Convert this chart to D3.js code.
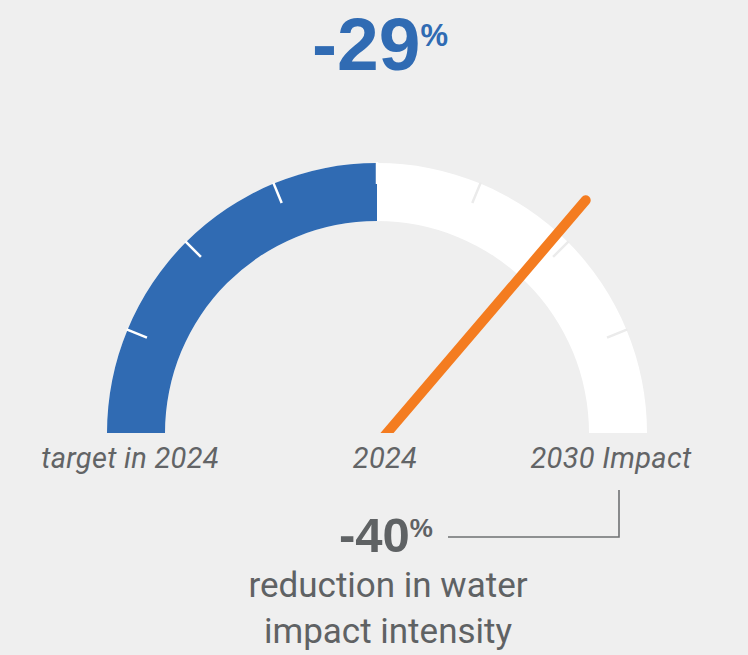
<!DOCTYPE html>
<html>
<head>
<meta charset="utf-8">
<script src="https://cdn.jsdelivr.net/npm/d3@7/dist/d3.min.js"></script>
<style>
  html, body { margin: 0; padding: 0; background: #efefef; }
  svg { display: block; }
</style>
</head>
<body>
<svg id="chart" width="748" height="655"></svg>
<script>
// ---- data ----
const scaleDomain = [0, 40];            // reduction range shown by the gauge (%)
const tickValues = [5, 10, 15, 20, 25, 30, 35];
const progressValue = [20];              // filled (blue) part
const needleValue = [29];                // orange needle (-29%)
const headline = ["-29", "%"];
const targetLabel = ["-40", "%"];
const gaugeLabels = ["target in 2024", "2024", "2030 Impact"];
const captionLines = ["reduction in water", "impact intensity"];

// ---- layout ----
const W = 748, H = 655;
const cx = 377, cy = 433;
const rOuter = 270, rInner = 212;
const blue = "#306bb3", orange = "#f47c20", grey = "#626466";

const svg = d3.select("#chart");
svg.append("rect").attr("width", W).attr("height", H).attr("fill", "#efefef");

const angle = d3.scaleLinear().domain(scaleDomain).range([-Math.PI / 2, Math.PI / 2]);
const arc = d3.arc().innerRadius(rInner).outerRadius(rOuter);

const g = svg.append("g").attr("transform", `translate(${cx},${cy})`);

// background track
g.append("path")
  .attr("d", arc({ startAngle: angle(scaleDomain[0]), endAngle: angle(scaleDomain[1]) }))
  .attr("fill", "#ffffff");

// progress
g.selectAll("path.progress").data(progressValue).enter().append("path")
  .attr("class", "progress")
  .attr("d", d => arc({ startAngle: angle(scaleDomain[0]), endAngle: angle(d) }))
  .attr("fill", blue);

// ticks
const polar = (r, a) => [r * Math.sin(a), -r * Math.cos(a)];
g.selectAll("line.tick").data(tickValues).enter().append("line")
  .attr("class", "tick")
  .attr("x1", d => polar(rOuter - 21, angle(d))[0])
  .attr("y1", d => polar(rOuter - 21, angle(d))[1])
  .attr("x2", d => polar(rOuter + 1, angle(d))[0])
  .attr("y2", d => polar(rOuter + 1, angle(d))[1])
  .attr("stroke", d => d <= progressValue[0] ? "#ffffff" : "#ebebeb")
  .attr("stroke-width", 2.5);

// needle (clipped at gauge base)
svg.append("clipPath").attr("id", "base")
  .append("rect").attr("x", -cx).attr("y", -cy).attr("width", W).attr("height", cy);
const needleOffset = 10, needleLen = 306;
g.selectAll("line.needle").data(needleValue).enter().append("line")
  .attr("class", "needle")
  .attr("clip-path", "url(#base)")
  .attr("x1", d => needleOffset - 20 * Math.sin(angle(d)))
  .attr("y1", d => 20 * Math.cos(angle(d)))
  .attr("x2", d => needleOffset + needleLen * Math.sin(angle(d)))
  .attr("y2", d => -needleLen * Math.cos(angle(d)))
  .attr("stroke", orange)
  .attr("stroke-width", 10)
  .attr("stroke-linecap", "round");

// headline
const h = svg.append("text")
  .attr("x", 380).attr("y", 70)
  .attr("text-anchor", "middle")
  .attr("fill", blue)
  .attr("font-family", "'Liberation Sans', Arial, sans-serif")
  .attr("font-weight", "bold");
h.append("tspan").attr("font-size", 75).text(headline[0]);
h.append("tspan").attr("font-size", 31).attr("dy", -24).text(headline[1]);

// gauge labels
const labelX = [130, 385, 611];
svg.selectAll("text.glabel").data(gaugeLabels).enter().append("text")
  .attr("class", "glabel")
  .attr("x", (d, i) => labelX[i]).attr("y", 468)
  .attr("text-anchor", "middle")
  .attr("font-family", "Roboto, sans-serif")
  .attr("font-style", "italic")
  .attr("font-size", 29)
  .attr("letter-spacing", 0.3)
  .attr("fill", grey)
  .text(d => d);

// target label
const t = svg.append("text")
  .attr("x", 386).attr("y", 552)
  .attr("text-anchor", "middle")
  .attr("fill", "#5f6264")
  .attr("font-family", "'Liberation Sans', Arial, sans-serif")
  .attr("font-weight", "bold");
t.append("tspan").attr("font-size", 49).text(targetLabel[0]);
t.append("tspan").attr("font-size", 26).attr("dy", -15).text(targetLabel[1]);

// connector
svg.append("path")
  .attr("d", "M448,537H619V490")
  .attr("fill", "none")
  .attr("stroke", "#6f7173")
  .attr("stroke-width", 1.6);

// caption
svg.selectAll("text.cap").data(captionLines).enter().append("text")
  .attr("class", "cap")
  .attr("x", 388).attr("y", (d, i) => 597 + i * 46)
  .attr("text-anchor", "middle")
  .attr("font-family", "Roboto, sans-serif")
  .attr("font-size", 35)
  .attr("fill", "#5f6264")
  .text(d => d);
</script>
</body>
</html>
